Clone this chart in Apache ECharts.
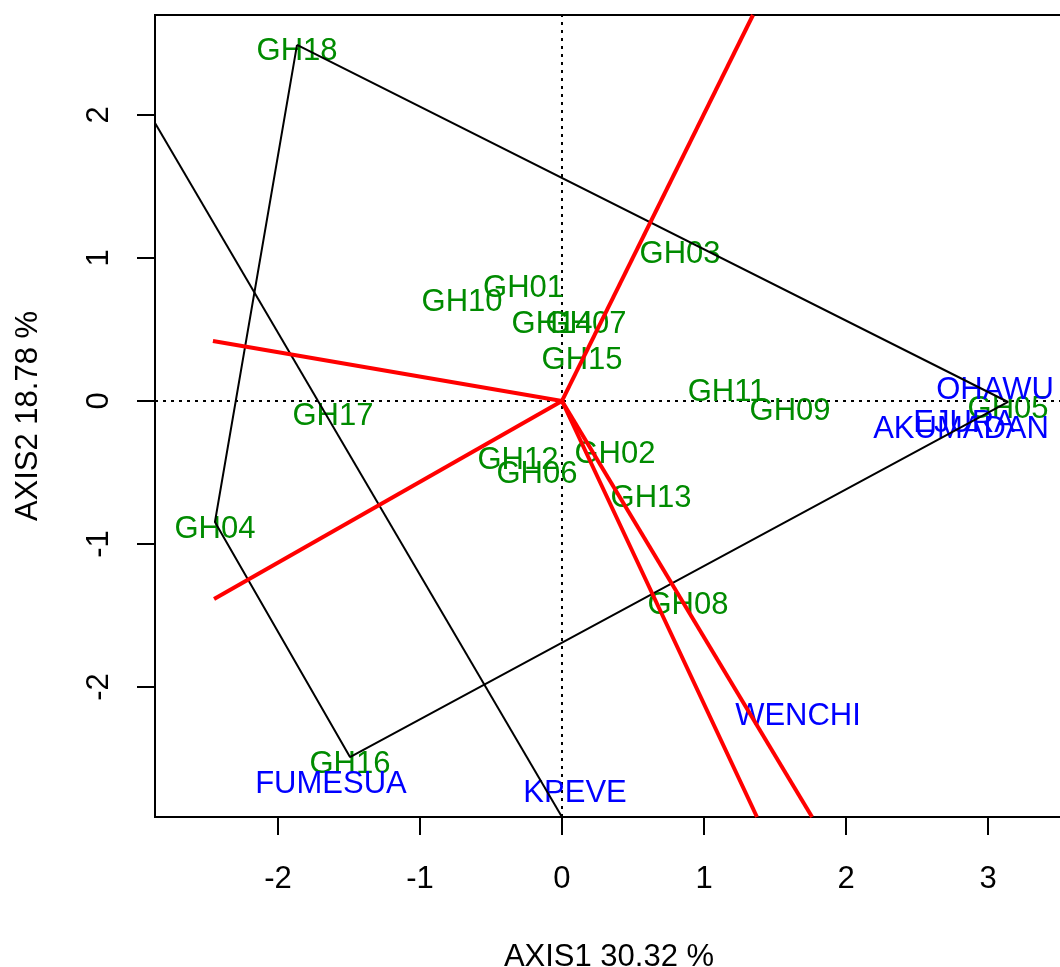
<!DOCTYPE html>
<html><head><meta charset="utf-8">
<script src="https://cdn.jsdelivr.net/npm/echarts@6/dist/echarts.min.js"></script>
<style>html,body{margin:0;padding:0;background:#fff}#c{width:1060px;height:967px}</style>
</head><body><div id="c"></div>
<script>
// Genotype scores (AXIS1, AXIS2)
const genotypes = ['GH01','GH02','GH03','GH04','GH05','GH06','GH07','GH08','GH09','GH10','GH11','GH12','GH13','GH14','GH15','GH16','GH17','GH18'];
const genoX = [-0.271, 0.373, 0.831, -2.444, 3.141, -0.176, 0.169, 0.887, 1.606, -0.704, 1.162, -0.310, 0.627, -0.070, 0.141, -1.493, -1.613, -1.866];
const genoY = [0.839, -0.322, 1.077, -0.846, -0.007, -0.462, 0.587, -1.378, -0.021, 0.741, 0.112, -0.364, -0.636, 0.587, 0.329, -2.490, -0.056, 2.490];
// Environment scores
const envs = ['OHAWU','EJURA','AKUMADAN','WENCHI','FUMESUA','KPEVE'];
const envX = [3.049, 2.831, 2.810, 1.662, -1.627, 0.092];
const envY = [0.126, -0.105, -0.147, -2.154, -2.629, -2.692];
// Polygon (hull) vertices, in drawing order
const hull = ['GH18','GH05','GH16','GH04','GH18'];
// Sector rays from origin (end points)
const rayX = [1.345, -2.458, -2.450, 1.373, 1.761];
const rayY = [2.699, 0.420, -1.385, -2.909, -2.909];
// Extra straight line (two end points)
const lineX = [-2.866, 0.0];
const lineY = [1.944, -2.909];
// Axis ranges and ticks
const xRange = [-2.866, 3.528];
const yRange = [-2.909, 2.699];
const xTicks = [-2, -1, 0, 1, 2, 3];
const yTicks = [-2, -1, 0, 1, 2];
const xTitle = 'AXIS1 30.32 %';
const yTitle = 'AXIS2 18.78 %';

const FONT = "'Liberation Sans', Arial, sans-serif";
const FS = 31;

function labelSeries(names, xs, ys, color, z) {
  return {
    type: 'scatter', z: z, silent: true, symbolSize: 0,
    itemStyle: { color: color, opacity: 1 },
    data: names.map((n, i) => ({ name: n, value: [xs[i], ys[i]] })),
    label: { show: true, position: 'inside', offset: [0, 7], formatter: p => p.name, opacity: 1,
      color: color, fontSize: FS, fontFamily: FONT, textBorderWidth: 0, textBorderColor: 'transparent' }
  };
}
function seg(pts, color, width, z, type) {
  return { type: 'line', z: z, silent: true, symbol: 'none', clip: true, animation: false,
    data: pts, lineStyle: { color: color, width: width, type: type || 'solid' } };
}

const series = [];
series.push(seg([[0, yRange[0]], [0, yRange[1]]], '#000', 2, 1, [3, 5]));
series.push(seg([[xRange[0], 0], [xRange[1], 0]], '#000', 2, 1, [3, 5]));
series.push(labelSeries(genotypes, genoX, genoY, '#008B00', 2));
series.push(labelSeries(envs, envX, envY, '#0000FF', 2));
series.push(seg(hull.map(g => { const i = genotypes.indexOf(g); return [genoX[i], genoY[i]]; }), '#000', 2, 3));
series.push(seg(lineX.map((x, i) => [x, lineY[i]]), '#000', 2, 3));
rayX.forEach((x, i) => series.push(seg([[0, 0], [x, rayY[i]]], '#FF0000', 4, 4)));

const chart = echarts.init(document.getElementById('c'), null, { renderer: 'canvas' });
chart.setOption({
  animation: false,
  backgroundColor: '#fff',
  textStyle: { fontFamily: FONT },
  grid: { left: 155, right: -3, top: 15, bottom: 150, outerBoundsMode: 'none', containLabel: false,
    show: true, borderColor: '#000', borderWidth: 2, backgroundColor: 'transparent' },
  xAxis: {
    type: 'value', min: xRange[0], max: xRange[1],
    splitLine: { show: false }, axisLine: { show: false, onZero: false },
    axisTick: { show: true, inside: false, length: 18, customValues: xTicks, lineStyle: { color: '#000', width: 2 } },
    axisLabel: { customValues: xTicks, fontSize: FS, color: '#000', margin: 47, fontFamily: FONT },
    name: xTitle, nameLocation: 'middle', nameGap: 125,
    nameTextStyle: { fontSize: FS, color: '#000', fontFamily: FONT }
  },
  yAxis: {
    type: 'value', min: yRange[0], max: yRange[1],
    splitLine: { show: false }, axisLine: { show: false, onZero: false },
    axisTick: { show: true, inside: false, length: 18, customValues: yTicks, lineStyle: { color: '#000', width: 2 } },
    axisLabel: { customValues: yTicks, fontSize: FS, color: '#000', margin: 40, rotate: 90, fontFamily: FONT },
    name: yTitle, nameLocation: 'middle', nameGap: 111, nameRotate: 90,
    nameTextStyle: { fontSize: FS, color: '#000', fontFamily: FONT }
  },
  series: series
});
</script></body></html>
